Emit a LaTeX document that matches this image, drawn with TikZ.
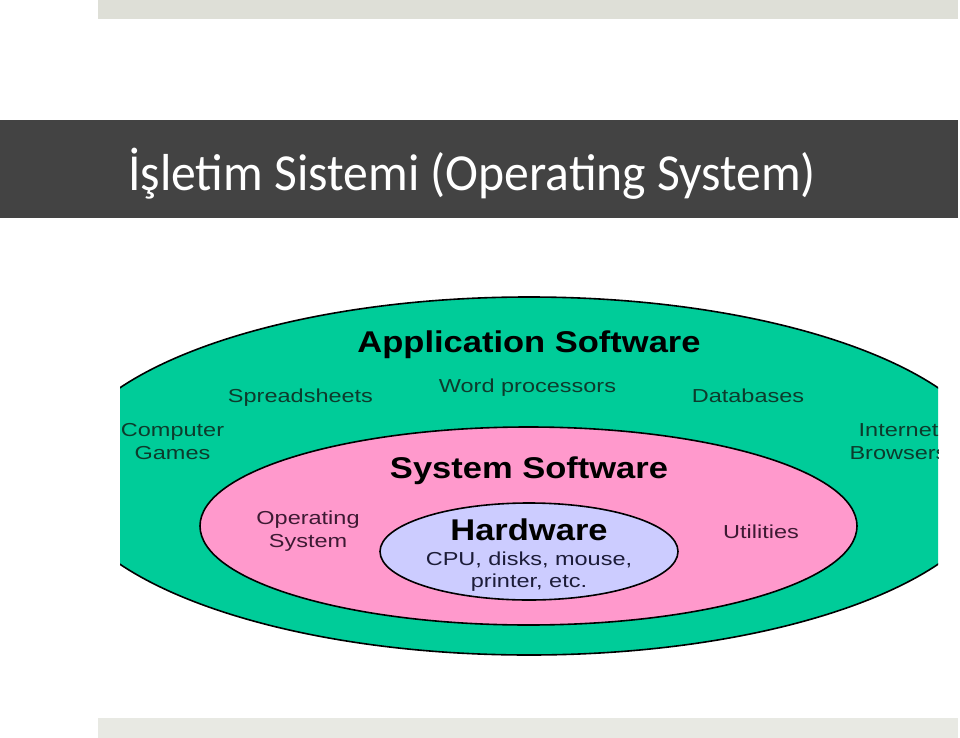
\documentclass[tikz,border=0pt]{standalone}
\usepackage{fontspec}
\setmainfont{Liberation Sans}
\newfontfamily\titlefont[FakeStretch=0.955]{Carlito}
\newfontfamily\lab[FakeStretch=1.25]{Liberation Sans}
\newfontfamily\labhead[FakeStretch=1.15]{Liberation Sans}
\usetikzlibrary{shapes.geometric}
\definecolor{appgreen}{HTML}{00CC99}
\definecolor{syspink}{HTML}{FF99CC}
\definecolor{hwblue}{HTML}{CCCCFF}
\definecolor{bandgrey}{HTML}{434343}
\definecolor{topbar}{HTML}{DEDFD7}
\definecolor{botbar}{HTML}{E8E9E3}
\definecolor{gtext}{HTML}{0D3B2C}
\definecolor{ptext}{HTML}{3D1A33}
\definecolor{btext}{HTML}{1C1C38}
\tikzset{
  ring/.style={ellipse, draw=black, line width=1.6pt, inner sep=0pt, outer sep=0pt},
  heading/.style={font=\labhead\bfseries\fontsize{30}{34}\selectfont, text=black, inner sep=0pt, anchor=base},
  item/.style={font=\lab\fontsize{18.8}{23}\selectfont, inner sep=0pt, align=center},
}
\begin{document}
\begin{tikzpicture}[x=1pt,y=-1pt]
\useasboundingbox (0,0) rectangle (960,738);
\fill[white] (0,0) rectangle (960,738);
% bars
\fill[topbar] (98,0) rectangle (958,19);
\fill[botbar] (98,718) rectangle (958,738);
\fill[bandgrey] (0,120) rectangle (958,218);
\node[anchor=base west, text=white, inner sep=0pt,
      font=\titlefont\fontsize{52}{60}\selectfont] (title) at (128,190)
  {İşletim Sistemi (Operating System)};
% diagram
\begin{scope}
  \clip (120,250) rectangle (938,700);
  \node[ring, fill=appgreen, minimum width=940pt, minimum height=358pt] (app) at (529,476) {};
  \node[item, text=gtext, anchor=center] (web) at (898.5,442) {Internet\\Browsers};
\end{scope}
\node[ring, fill=syspink, minimum width=657pt, minimum height=198pt] (sys) at (528.5,526) {};
\node[ring, fill=hwblue, minimum width=298pt, minimum height=97pt] (hw) at (529,551.5) {};
% application labels
\node[heading] (apph) at (529,352) {Application Software};
\node[item, text=gtext, anchor=base] (sheets) at (300.5,402) {Spreadsheets};
\node[item, text=gtext, anchor=base] (word) at (527.5,392) {Word processors};
\node[item, text=gtext, anchor=base] (db) at (748,402) {Databases};
\node[item, text=gtext, anchor=center] (games) at (172.5,442) {Computer\\Games};
% system labels
\node[heading] (sysh) at (529,478) {System Software};
\node[item, text=ptext, anchor=center] (os) at (308,531) {Operating\\System};
\node[item, text=ptext, anchor=base] (util) at (761,538) {Utilities};
% hardware labels
\node[heading] (hwh) at (529,540) {Hardware};
\node[item, text=btext, anchor=base] (cpu) at (529,565.5) {CPU, disks, mouse,};
\node[item, text=btext, anchor=base] (prn) at (529,587.5) {printer, etc.};
\end{tikzpicture}
\end{document}
